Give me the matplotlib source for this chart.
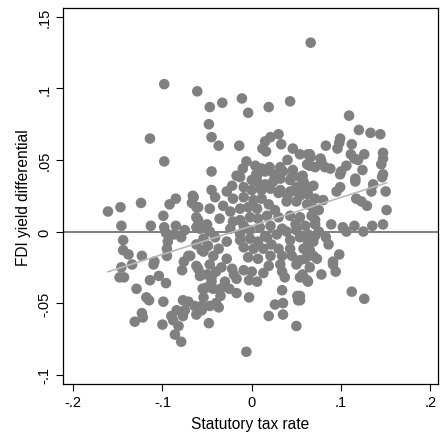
import numpy as np
import matplotlib
matplotlib.use("Agg")
from matplotlib import pyplot as plt

plt.rcParams['font.family'] = ['Liberation Sans', 'DejaVu Sans']

# statutory tax rate (x) and FDI yield differential (y), read off the chart region by region
# upper part of the cloud
upper_tax = [
    -0.098, -0.061, -0.114, -0.098, 0.066,
    -0.047, -0.033, -0.011, -0.004, 0.019, 0.043, -0.048, -0.045, -0.037, -0.014,
    -0.045, 0.015, 0.021, 0.030, 0.012, 0.016, 0.033, 0.046, 0.054, 0.040,
    0.063, 0.062, 0.032, -0.006, -0.010, 0.004, 0.011, -0.017, 0.006, 0.046,
    0.109, 0.120, 0.133, 0.144, 0.099, 0.098, 0.096, 0.083, 0.112, 0.111,
    0.115, 0.119, 0.126, 0.147, 0.147, 0.145, 0.065, 0.066, 0.077, 0.078,
    0.065, 0.071, 0.082, 0.088, 0.106, 0.100, 0.124, 0.116, 0.147, 0.057,
]
upper_fdi = [
    0.103, 0.098, 0.065, 0.049, 0.132,
    0.087, 0.090, 0.093, 0.083, 0.087, 0.091, 0.075, 0.066, 0.060, 0.060,
    0.042, 0.063, 0.066, 0.068, 0.058, 0.056, 0.061, 0.058, 0.054, 0.050,
    0.054, 0.047, 0.045, 0.049, 0.044, 0.046, 0.044, 0.039, 0.039, 0.043,
    0.081, 0.071, 0.069, 0.068, 0.065, 0.062, 0.058, 0.060, 0.061, 0.054,
    0.051, 0.050, 0.054, 0.055, 0.051, 0.047, 0.054, 0.052, 0.051, 0.049,
    0.046, 0.045, 0.045, 0.044, 0.046, 0.042, 0.043, 0.037, 0.040, 0.039,
]

# left side
left_tax = [
    -0.161, -0.147, -0.124, -0.085, -0.092, -0.066, -0.067, -0.060, -0.099, -0.146,
    -0.113, -0.098, -0.085, -0.096, -0.087, -0.079, -0.075, -0.062, -0.062, -0.144,
    -0.094, -0.095, -0.144, -0.138, -0.123, -0.095, -0.071, -0.109, -0.076, -0.134,
    -0.146, -0.056,
]
left_fdi = [
    0.014, 0.017, 0.020, 0.023, 0.019, 0.025, 0.020, 0.017, 0.011, 0.004,
    0.004, 0.003, 0.004, -0.001, -0.002, -0.004, 0.001, 0.003, 0.010, -0.006,
    -0.007, -0.012, -0.013, -0.016, -0.017, -0.017, -0.017, -0.021, -0.021, -0.023,
    -0.025, -0.013,
]

# right side
right_tax = [
    0.054, 0.065, 0.099, 0.116, 0.146, 0.099, 0.095, 0.134, 0.136, 0.150,
    0.117, 0.123, 0.129, 0.151, 0.080, 0.069, 0.071, 0.089, 0.102, 0.106,
    0.115, 0.125, 0.135, 0.147, 0.083, 0.086, 0.071, 0.069, 0.065, 0.098,
    0.091, 0.054,
]
right_fdi = [
    0.038, 0.031, 0.040, 0.035, 0.038, 0.031, 0.028, 0.028, 0.033, 0.028,
    0.023, 0.021, 0.018, 0.015, 0.022, 0.016, 0.008, 0.005, 0.003, 0.000,
    0.004, 0.000, 0.004, 0.005, -0.004, -0.009, -0.003, -0.017, -0.013, -0.016,
    -0.021, -0.020,
]

# lower left
lowleft_tax = [
    -0.148, -0.143, -0.110, -0.114, -0.104, -0.096, -0.129, -0.118, -0.115, -0.099,
    -0.078, -0.060, -0.058, -0.054, -0.123, -0.122, -0.131, -0.100, -0.090, -0.084,
    -0.077, -0.071, -0.075, -0.077, -0.088, -0.082, -0.086, -0.079, -0.064, -0.062,
    -0.056, -0.054,
]
lowleft_fdi = [
    -0.032, -0.032, -0.023, -0.034, -0.031, -0.036, -0.040, -0.046, -0.048, -0.049,
    -0.027, -0.026, -0.031, -0.040, -0.057, -0.060, -0.063, -0.065, -0.059, -0.055,
    -0.048, -0.049, -0.055, -0.059, -0.062, -0.066, -0.072, -0.077, -0.052, -0.058,
    -0.055, -0.046,
]

# lower middle and lower right
low_tax = [
    -0.047, -0.034, -0.022, -0.045, -0.056, -0.050, -0.043, -0.035, -0.017, -0.003,
    0.006, 0.000, 0.013, 0.019, 0.034, 0.037, 0.054, 0.062, 0.050, -0.017,
    -0.003, 0.034, -0.056, -0.047, -0.037, -0.048, 0.026, 0.035, 0.035, 0.019,
    0.051, 0.052, 0.050, -0.006,
    0.057, 0.063, 0.078, 0.094, 0.054, 0.054, 0.112, 0.126, 0.091,
]
low_fdi = [
    -0.023, -0.025, -0.026, -0.032, -0.030, -0.039, -0.040, -0.040, -0.033, -0.034,
    -0.035, -0.028, -0.029, -0.024, -0.028, -0.032, -0.032, -0.034, -0.023, -0.043,
    -0.046, -0.041, -0.052, -0.052, -0.053, -0.064, -0.051, -0.050, -0.058, -0.059,
    -0.045, -0.048, -0.066, -0.084,
    -0.030, -0.035, -0.030, -0.028, -0.045, -0.048, -0.042, -0.047, -0.023,
]

# dense core
core_tax = [
    -0.013, 0.000, 0.006, 0.015, 0.024, 0.032, 0.043, 0.050, 0.058, 0.069,
    0.063, 0.054, 0.043, 0.032, 0.021, 0.011, 0.000, -0.009, -0.022, -0.028,
    -0.045, -0.041, -0.021, -0.009, 0.002, 0.011, 0.019, 0.026, 0.039, 0.050,
    0.062, 0.071, -0.065, -0.062, -0.047, -0.032, -0.024, -0.013, -0.004, 0.006,
    -0.002, 0.007, 0.017, 0.030, 0.043, 0.054, 0.067, 0.075, -0.060, -0.050,
    -0.036, -0.021, -0.009, -0.013, 0.009, 0.021, 0.034, 0.049, 0.060, 0.071,
    -0.058, -0.047, -0.024, -0.013, -0.002, 0.015, 0.028, 0.039, 0.050, 0.063,
    0.075, -0.054, -0.041, -0.028, -0.013, -0.002, 0.007, 0.017, 0.022, 0.043,
    0.054, 0.069, -0.062, -0.049, -0.037, -0.009, 0.002, 0.013, 0.030, 0.043,
    0.058, 0.063, -0.069, -0.054, -0.043, -0.028, -0.004, 0.007, 0.021, 0.034,
    0.045, 0.060, 0.073, -0.062, -0.009, 0.032, 0.065,
]
core_fdi = [
    0.038, 0.036, 0.035, 0.033, 0.035, 0.037, 0.036, 0.031, 0.035, 0.032,
    0.026, 0.025, 0.028, 0.029, 0.030, 0.029, 0.029, 0.031, 0.032, 0.028,
    0.029, 0.024, 0.023, 0.024, 0.022, 0.023, 0.019, 0.015, 0.021, 0.021,
    0.019, 0.023, 0.024, 0.017, 0.016, 0.018, 0.014, 0.016, 0.017, 0.016,
    0.010, 0.009, 0.011, 0.010, 0.011, 0.010, 0.011, 0.015, 0.008, 0.005,
    0.009, 0.007, 0.004, 0.008, 0.003, 0.004, 0.002, 0.005, 0.004, 0.005,
    0.002, -0.000, 0.002, -0.002, 0.001, -0.003, -0.002, -0.000, 0.001, -0.002,
    -0.000, -0.005, -0.004, -0.007, -0.006, -0.005, -0.007, -0.004, -0.009, -0.006,
    -0.004, -0.007, -0.009, -0.010, -0.012, -0.011, -0.012, -0.012, -0.012, -0.012,
    -0.012, -0.007, -0.017, -0.014, -0.017, -0.019, -0.018, -0.019, -0.017, -0.017,
    -0.017, -0.019, -0.019, -0.024, -0.027, -0.023, -0.025,
]

# points hidden in the two solid patches (upper right of centre, lower left of centre)
patch_tax = [
    0.005, 0.015, 0.025, 0.035, 0.045, 0.010, 0.030, 0.040, 0.050, 0.020, 0.060,
    -0.050, -0.040, -0.030, -0.045, -0.035, -0.025, -0.055, -0.040, -0.020,
]
patch_fdi = [
    0.040, 0.042, 0.040, 0.042, 0.038, 0.030, 0.027, 0.025, 0.028, 0.045, 0.030,
    -0.030, -0.028, -0.035, -0.035, -0.045, -0.040, -0.040, -0.050, -0.030,
]

x = np.array(upper_tax + left_tax + right_tax + lowleft_tax + low_tax + core_tax + patch_tax)
y = np.array(upper_fdi + left_fdi + right_fdi + lowleft_fdi + low_fdi + core_fdi + patch_fdi)

fig = plt.figure(figsize=(4.4, 4.35), dpi=100)
ax = fig.add_axes([0.1425, 0.115, 0.853, 0.8636])

ax.axhline(0, color='#5a5a5a', lw=1.1, zorder=1)
ax.scatter(x, y, s=58, color='#808080', edgecolors='none', zorder=2)

# linear fit over the data range
b, a = np.polyfit(x, y, 1)
xs = np.array([x.min(), x.max()])
ax.plot(xs, a + b * xs, color='#b8b8b8', lw=1.2, zorder=3)

ax.set_xlim(-0.2117, 0.2086)
ax.set_ylim(-0.1065, 0.156)

ax.set_xticks([-0.2, -0.1, 0, 0.1, 0.2])
ax.set_xticklabels(['-.2', '-.1', '0', '.1', '.2'])
ax.set_yticks([-0.1, -0.05, 0, 0.05, 0.1, 0.15])
ax.set_yticklabels(['-.1', '-.05', '0', '.05', '.1', '.15'], rotation=90, va='center')

ax.tick_params(direction='out', length=5, width=0.8, labelsize=10.5, pad=3)
for s in ax.spines.values():
    s.set_linewidth(0.9)

ax.set_xlabel('Statutory tax rate', fontsize=11.2, labelpad=5)
ax.set_ylabel('FDI yield differential', fontsize=11.2, labelpad=5)

fig.savefig('out.png', dpi=100)
